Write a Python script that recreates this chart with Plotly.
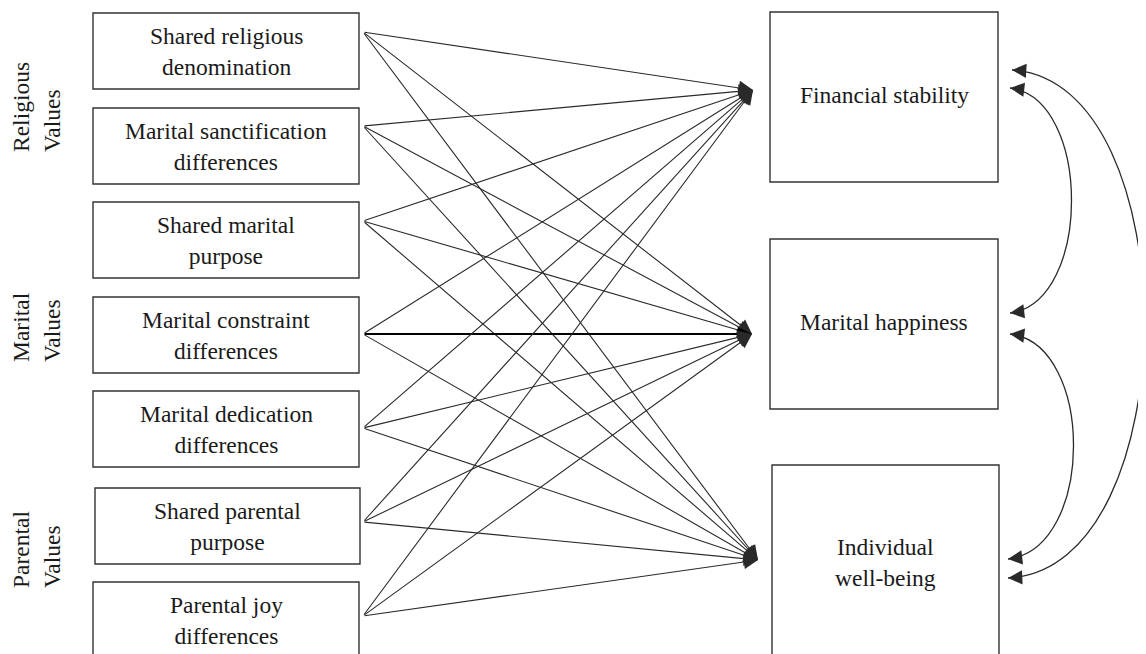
import math
import plotly.graph_objects as go

# ---------------- data ----------------
predictors = [
    "Shared religious<br>denomination",
    "Marital sanctification<br>differences",
    "Shared marital<br>purpose",
    "Marital constraint<br>differences",
    "Marital dedication<br>differences",
    "Shared parental<br>purpose",
    "Parental joy<br>differences",
]
outcomes = ["Financial stability", "Marital happiness", "Individual<br>well-being"]
groups = ["Religious<br>Values", "Marital<br>Values", "Parental<br>Values"]

# every predictor has a path to every outcome
path_from = [p for p in range(len(predictors)) for _ in range(len(outcomes))]
path_to = [o for _ in range(len(predictors)) for o in range(len(outcomes))]

# correlated outcomes (double-headed curved arrows)
cov_a = [0, 0, 1]
cov_b = [1, 2, 2]

# ---------------- layout geometry (pixels) ----------------
W, H = 1146, 654
OFF = 8  # default page body margin
pred_boxes = [(93, 13, 359, 89), (93, 108, 359, 184), (93, 202, 359, 278),
              (93, 297, 359, 373), (93, 391, 359, 467), (95, 488, 360, 564),
              (93, 582, 359, 660)]
pred_anchor_x = 363
pred_anchor_y = [32, 126, 221, 334, 428, 522, 616]
out_boxes = [(770, 12, 998, 182), (770, 239, 998, 409), (772, 465, 999, 662)]
out_text_y = [95, 322, 562]
out_tips = [(753, 90), (752, 334), (758, 560)]
group_pos = [(36, 107), (36, 327), (36, 550)]
# curved arrows: start tip, control 1, control 2, end tip
cov_geom = [
    ((1010, 88), (1092, 98), (1092, 303), (1010, 313)),
    ((1012, 70), (1189, 80), (1189, 570), (1008, 578)),
    ((1010, 334), (1095, 344), (1095, 549), (1008, 559)),
]

FONT = "Liberation Serif, Times New Roman, serif"
TXT = "#1a1a1a"
LINE = "#2a2a2a"
FS = 23.5

fig = go.Figure()
shapes = []
annotations = []

# predictor boxes + labels
for (x0, y0, x1, y1), label in zip(pred_boxes, predictors):
    shapes.append(dict(type="rect", xref="x", yref="y", x0=x0, y0=y0, x1=x1, y1=y1,
                       line=dict(color="#333333", width=1.4), fillcolor="rgba(0,0,0,0)"))
    annotations.append(dict(x=(x0 + x1) / 2, y=(y0 + min(y1, 658)) / 2, xref="x", yref="y",
                            text=label, showarrow=False,
                            font=dict(family=FONT, size=FS, color=TXT), align="center"))

# outcome boxes + labels
for (x0, y0, x1, y1), label, ty in zip(out_boxes, outcomes, out_text_y):
    shapes.append(dict(type="rect", xref="x", yref="y", x0=x0, y0=y0, x1=x1, y1=y1,
                       line=dict(color="#333333", width=1.4), fillcolor="rgba(0,0,0,0)"))
    annotations.append(dict(x=(x0 + x1) / 2, y=ty, xref="x", yref="y",
                            text=label, showarrow=False,
                            font=dict(family=FONT, size=FS, color=TXT), align="center"))

# group labels (rotated)
for (gx, gy), label in zip(group_pos, groups):
    annotations.append(dict(x=gx, y=gy, xref="x", yref="y", text=label, showarrow=False,
                            textangle=-90, align="left",
                            font=dict(family=FONT, size=FS, color=TXT)))

# straight paths
for s, t in zip(path_from, path_to):
    tx, ty = out_tips[t]
    horiz = abs(pred_anchor_y[s] - ty) < 2
    annotations.append(dict(x=tx, y=ty, ax=pred_anchor_x, ay=pred_anchor_y[s],
                            xref="x", yref="y", axref="x", ayref="y", text="",
                            showarrow=True, arrowhead=2, arrowsize=2.6 if not horiz else 1.6,
                            arrowwidth=1.1 if not horiz else 1.8,
                            arrowcolor=LINE if not horiz else "#000000",
                            standoff=0, startstandoff=0))

# curved double-headed arrows
for a, b, (p0, c1, c2, p1) in zip(cov_a, cov_b, cov_geom):
    shapes.append(dict(type="path", xref="x", yref="y",
                       path=f"M {p0[0]},{p0[1]} C {c1[0]},{c1[1]} {c2[0]},{c2[1]} {p1[0]},{p1[1]}",
                       line=dict(color=LINE, width=1.3)))
    for tip, ctrl in ((p0, c1), (p1, c2)):
        dx, dy = ctrl[0] - tip[0], ctrl[1] - tip[1]
        n = math.hypot(dx, dy)
        L = 10
        annotations.append(dict(x=tip[0], y=tip[1], ax=tip[0] + L * dx / n, ay=tip[1] + L * dy / n,
                                xref="x", yref="y", axref="x", ayref="y", text="",
                                showarrow=True, arrowhead=2, arrowsize=2.6, arrowwidth=1.1,
                                arrowcolor=LINE, standoff=0))

fig.update_layout(
    width=W - OFF, height=H - OFF,
    margin=dict(l=0, r=0, t=0, b=0),
    paper_bgcolor="white", plot_bgcolor="white",
    xaxis=dict(range=[OFF, W], visible=False, fixedrange=True),
    yaxis=dict(range=[H, OFF], visible=False, fixedrange=True),
    showlegend=False,
    shapes=shapes,
    annotations=annotations,
)

fig.write_html("out.html")
